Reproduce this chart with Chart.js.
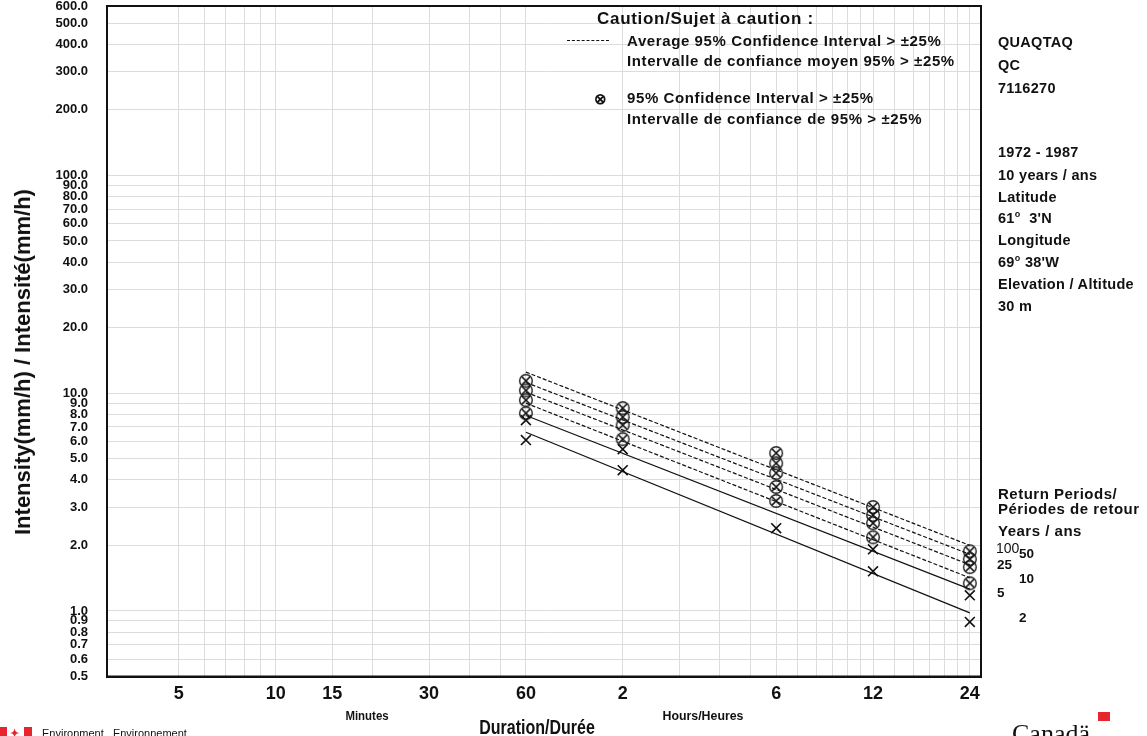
<!DOCTYPE html>
<html>
<head>
<meta charset="utf-8">
<script src="https://cdn.jsdelivr.net/npm/chart.js@4.4.1/dist/chart.umd.min.js"></script>
<style>
  body { margin: 0; background: #fff; width: 1147px; height: 736px; overflow: hidden; position: relative; font-family: "Liberation Sans", Arial, sans-serif; color: #111; }
  #idf { position: absolute; left: 0; top: 0; }
  .t { position: absolute; white-space: nowrap; font-weight: bold; transform: translateY(-50%); line-height: 1; }
  .c { font-size: 15px; letter-spacing: 0.6px; }
  .s { font-size: 14.5px; letter-spacing: 0.3px; }
</style>
</head>
<body>
<canvas id="idf" width="1147" height="736"></canvas>

<div class="t" style="left:597px; top:18px; font-size:17px; letter-spacing:0.7px;">Caution/Sujet à caution :</div>
<div style="position:absolute; left:567px; top:40px; width:42px; border-top:1.5px dashed #111;"></div>
<div class="t c" style="left:627px; top:40px;">Average 95% Confidence Interval &gt; ±25%</div>
<div class="t c" style="left:627px; top:60px;">Intervalle de confiance moyen 95% &gt; ±25%</div>
<div class="t" style="left:594px; top:98px; font-size:15px;">⊗</div>
<div class="t c" style="left:627px; top:97px;">95% Confidence Interval &gt; ±25%</div>
<div class="t c" style="left:627px; top:118px;">Intervalle de confiance de 95% &gt; ±25%</div>

<div class="t s" style="left:998px; top:42px;">QUAQTAQ</div>
<div class="t s" style="left:998px; top:65px;">QC</div>
<div class="t s" style="left:998px; top:88px;">7116270</div>
<div class="t s" style="left:998px; top:152px;">1972 - 1987</div>
<div class="t s" style="left:998px; top:175px;">10 years / ans</div>
<div class="t s" style="left:998px; top:197px;">Latitude</div>
<div class="t s" style="left:998px; top:218px;">61<sup style="font-size:9px">o</sup>&nbsp; 3'N</div>
<div class="t s" style="left:998px; top:240px;">Longitude</div>
<div class="t s" style="left:998px; top:262px;">69<sup style="font-size:9px">o</sup> 38'W</div>
<div class="t s" style="left:998px; top:284px;">Elevation / Altitude</div>
<div class="t s" style="left:998px; top:306px;">30 m</div>

<div class="t c" style="left:998px; top:493px; letter-spacing:0.5px;">Return Periods/</div>
<div class="t c" style="left:998px; top:508px; letter-spacing:0.5px;">Périodes de retour</div>
<div class="t c" style="left:998px; top:530px; letter-spacing:0.5px;">Years / ans</div>
<div class="t" style="left:996px; top:548px; font-size:14px; font-weight:normal;">100</div>
<div class="t" style="left:1019px; top:554px; font-size:13.5px;">50</div>
<div class="t" style="left:997px; top:565px; font-size:13.5px;">25</div>
<div class="t" style="left:1019px; top:579px; font-size:13.5px;">10</div>
<div class="t" style="left:997px; top:593px; font-size:13.5px;">5</div>
<div class="t" style="left:1019px; top:618px; font-size:13.5px;">2</div>

<div class="t" style="left:23px; top:362px; font-size:22px; transform:translate(-50%,-50%) rotate(-90deg);">Intensity(mm/h) / Intensité(mm/h)</div>
<div class="t" style="left:367px; top:715px; font-size:13px; transform:translate(-50%,-50%) scaleX(0.88);">Minutes</div>
<div class="t" style="left:703px; top:715px; font-size:13px; transform:translate(-50%,-50%) scaleX(0.95);">Hours/Heures</div>
<div class="t" style="left:537px; top:727px; font-size:20px; transform:translate(-50%,-50%) scaleX(0.8);">Duration/Durée</div>

<div style="position:absolute; left:0; top:727px; width:7px; height:10px; background:#e8252f;"></div>
<div class="t" style="left:10px; top:733px; font-size:11px; color:#e8252f;">✦</div>
<div style="position:absolute; left:24px; top:727px; width:8px; height:10px; background:#e8252f;"></div>
<div class="t" style="left:42px; top:733px; font-size:11px; font-weight:normal;">Environment &nbsp; Environnement</div>
<div class="t" style="left:1012px; top:734px; font-size:26px; font-weight:normal; font-family:'Liberation Serif', serif;">Canadä</div>
<div style="position:absolute; left:1098px; top:712px; width:12px; height:9px; background:#e8252f;"></div>

<script>
// durations (minutes) where the data points sit
const durations = [60, 120, 360, 720, 1440];
const returnPeriods = [2, 5, 10, 25, 50, 100];

// observed intensities (mm/h) per return period
const int2 = [6.09, 4.43, 2.40, 1.52, 0.89];
const int5 = [7.52, 5.53, 3.20, 1.92, 1.18];
const int10 = [8.09, 6.15, 3.71, 2.18, 1.34];
const int25 = [9.29, 7.13, 4.30, 2.53, 1.59];
const int50 = [10.3, 7.77, 4.77, 2.76, 1.73];
const int100 = [11.4, 8.54, 5.31, 3.00, 1.88];

// 1 = 95% CI > 25% (circled point)
const ci2 = [0, 0, 0, 0, 0];
const ci5 = [0, 0, 1, 0, 0];
const ci10 = [1, 1, 1, 1, 1];
const ci25 = [1, 1, 1, 1, 1];
const ci50 = [1, 1, 1, 1, 1];
const ci100 = [1, 1, 1, 1, 1];

// fitted lines, value at 60 min and at 24 h
const fitEnds = [60, 1440];
const fit2 = [6.62, 0.98];
const fit5 = [7.90, 1.26];
const fit10 = [9.00, 1.42];
const fit25 = [10.1, 1.63];
const fit50 = [11.2, 1.82];
const fit100 = [12.5, 2.00];

const yTickValues = [0.5, 0.6, 0.7, 0.8, 0.9, 1, 2, 3, 4, 5, 6, 7, 8, 9, 10, 20, 30, 40, 50, 60, 70, 80, 90, 100, 200, 300, 400, 500, 600];
const xTickValues = [5, 6, 7, 8, 9, 10, 15, 20, 30, 40, 50, 60, 120, 180, 240, 300, 360, 420, 480, 540, 600, 660, 720, 840, 960, 1080, 1200, 1320, 1440];
const xLabelAt = [5, 10, 15, 30, 60, 120, 360, 720, 1440];
const xLabelText = ['5', '10', '15', '30', '60', '2', '6', '12', '24'];

const series = [int2, int5, int10, int25, int50, int100];
const flags = [ci2, ci5, ci10, ci25, ci50, ci100];
const fits = [fit2, fit5, fit10, fit25, fit50, fit100];

// circled X marker
function circledX() {
  var c = document.createElement('canvas');
  c.width = 16; c.height = 16;
  var g = c.getContext('2d');
  g.strokeStyle = '#222'; g.lineWidth = 1.4;
  g.beginPath(); g.arc(8, 8, 6.3, 0, Math.PI * 2); g.stroke();
  g.strokeStyle = '#111'; g.lineWidth = 1.7;
  g.beginPath();
  g.moveTo(4, 4); g.lineTo(12, 12);
  g.moveTo(12, 4); g.lineTo(4, 12);
  g.stroke();
  return c;
}
var circ = circledX();

var datasets = [];
returnPeriods.forEach(function(rp, k) {
  datasets.push({
    label: rp + ' yr fit',
    data: fitEnds.map(function(d, i) { return {x: d, y: fits[k][i]}; }),
    borderColor: '#111',
    borderWidth: 1.2,
    borderDash: rp >= 10 ? [4, 2] : [],
    pointRadius: 0,
    fill: false
  });
  datasets.push({
    label: rp + ' yr',
    data: durations.map(function(d, i) { return {x: d, y: series[k][i]}; }),
    showLine: false,
    borderColor: '#111',
    borderWidth: 1.6,
    pointRadius: 7,
    pointStyle: function(ctx) { return flags[k][ctx.dataIndex] ? circ : 'crossRot'; }
  });
});

const frame = {
  id: 'frame',
  afterDraw: function(chart) {
    var a = chart.chartArea, c = chart.ctx;
    c.save();
    c.strokeStyle = '#111';
    c.lineWidth = 2;
    c.strokeRect(a.left, a.top, a.right - a.left, a.bottom - a.top);
    c.restore();
  }
};

new Chart(document.getElementById('idf'), {
  type: 'line',
  data: { datasets: datasets },
  options: {
    responsive: false,
    animation: false,
    layout: { autoPadding: false, padding: { left: 0, top: 6, right: 166, bottom: 0 } },
    plugins: { legend: { display: false }, tooltip: { enabled: false } },
    scales: {
      x: {
        type: 'logarithmic',
        min: 2.99,
        max: 1560,
        afterBuildTicks: function(s) { s.ticks = xTickValues.map(function(v) { return {value: v}; }); },
        afterFit: function(s) { s.height = 59.5; },
        grid: { color: '#dcdcdc', lineWidth: 1, drawTicks: false },
        border: { color: '#111', width: 2 },
        ticks: {
          autoSkip: false,
          maxRotation: 0,
          padding: 7,
          color: '#111',
          font: { family: 'Liberation Sans', size: 18, weight: 'bold' },
          callback: function(v) {
            var i = xLabelAt.indexOf(v);
            return i >= 0 ? xLabelText[i] : '';
          }
        }
      },
      y: {
        type: 'logarithmic',
        min: 0.5,
        max: 600,
        afterBuildTicks: function(s) { s.ticks = yTickValues.map(function(v) { return {value: v}; }); },
        afterFit: function(s) { s.width = 107; },
        grid: { color: '#dcdcdc', lineWidth: 1, drawTicks: true, tickLength: 19, tickColor: 'rgba(0,0,0,0)' },
        border: { color: '#111', width: 2 },
        ticks: {
          autoSkip: false,
          padding: 0,
          color: '#111',
          font: { family: 'Liberation Sans', size: 13, weight: 'bold', lineHeight: 0.9 },
          callback: function(v) { return Number(v).toFixed(1); }
        }
      }
    }
  },
  plugins: [frame]
});
</script>
</body>
</html>
